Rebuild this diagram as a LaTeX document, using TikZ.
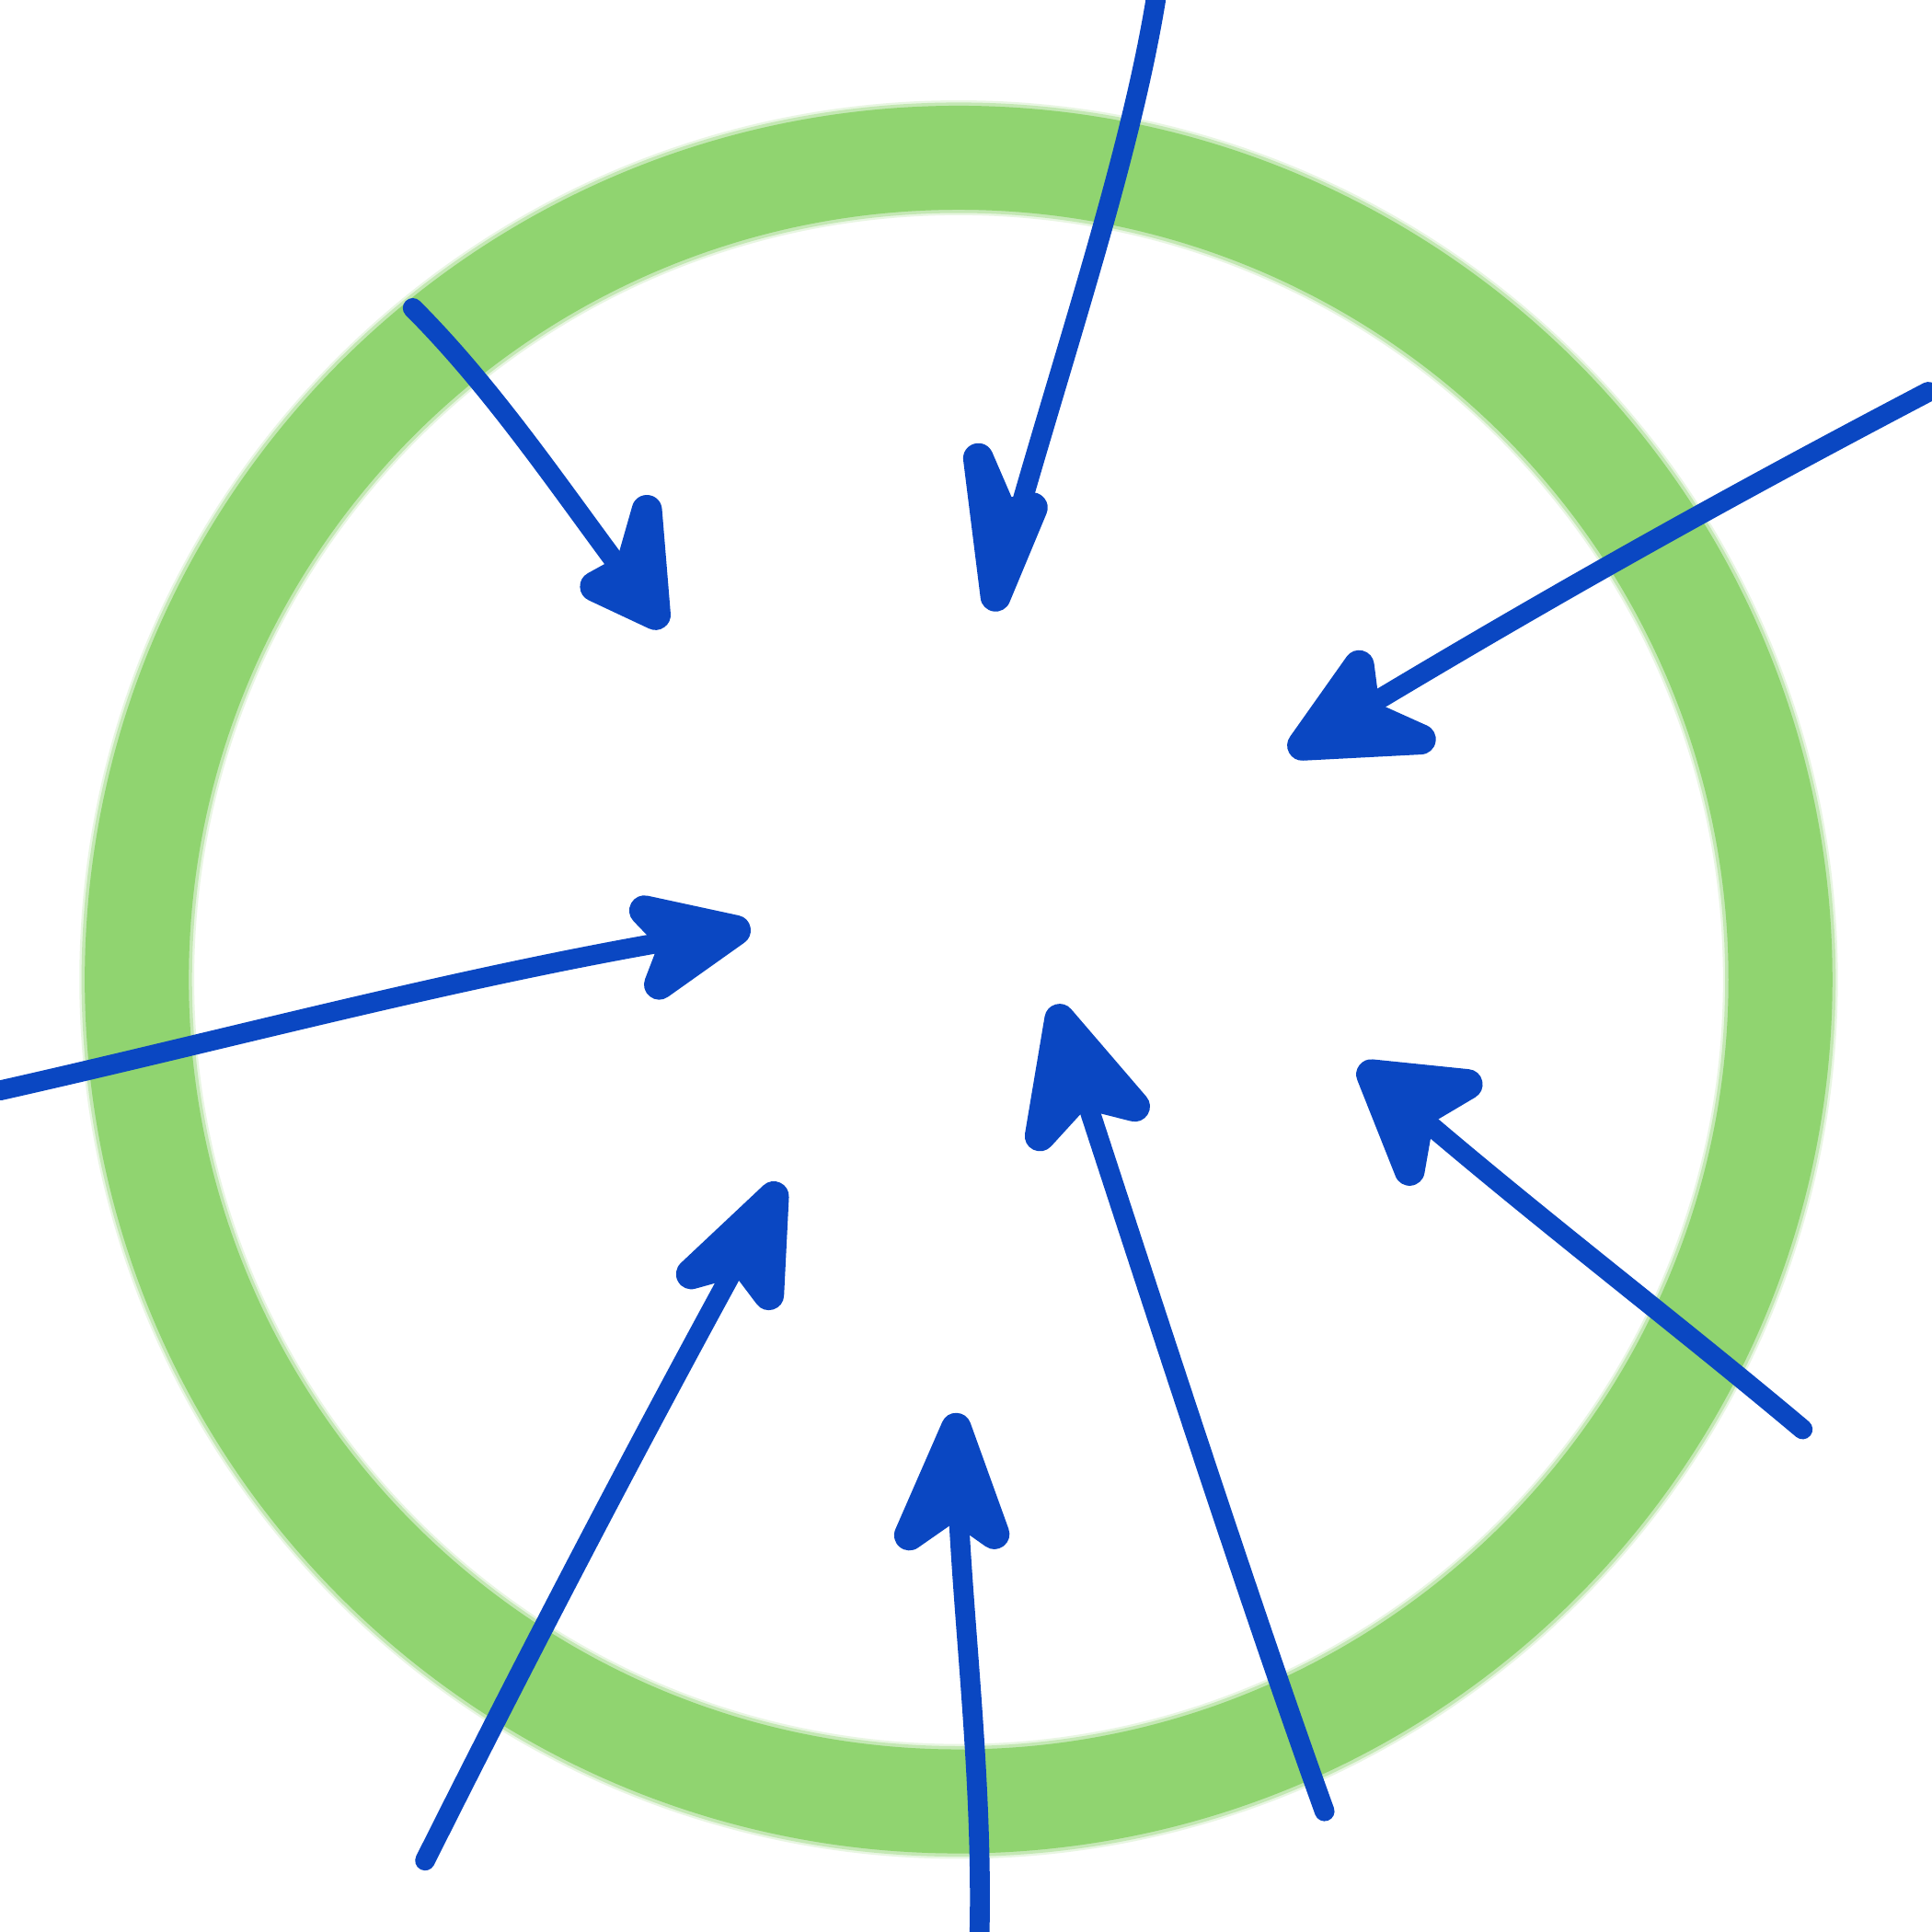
\documentclass[tikz,border=0pt]{standalone}
\usetikzlibrary{calc}
\definecolor{bl}{HTML}{0A47C2}
\definecolor{ringc}{HTML}{90D470}
\begin{document}
\begin{tikzpicture}[x=0.01cm,y=-0.01cm,
  arr/.style={draw=bl, line width=4.6pt, line cap=round, line join=round},
  head/.style={draw=bl, fill=bl, line width=7pt, line cap=round, line join=round},
  ring/.style={draw=ringc}]
\useasboundingbox[fill=white] (0,0) rectangle (1568,1568);
% soft ring
\draw[ring, line width=26.5pt, opacity=0.2] (778,795) circle[radius=667];
\draw[ring, line width=25.5pt, opacity=0.4] (778,795) circle[radius=667];
\draw[ring, line width=24pt] (778,795) circle[radius=667];
% coordinates
\coordinate (s1) at (938,0);   \coordinate (t1) at (808,484); \coordinate (l1) at (794,372);  \coordinate (r1) at (838,412);
\coordinate (s2) at (335,250); \coordinate (t2) at (532,499); \coordinate (l2) at (483,476);  \coordinate (r2) at (525,414);
\coordinate (s3) at (1565,318);\coordinate (t3) at (1057,605);\coordinate (l3) at (1103,540); \coordinate (r3) at (1153,600);
\coordinate (s4) at (0,885);   \coordinate (t4) at (597,755); \coordinate (l4) at (523,739);  \coordinate (r4) at (535,799);
\coordinate (s5) at (860,1470);\coordinate (t5) at (860,827); \coordinate (l5) at (844,922);  \coordinate (r5) at (921,898);
\coordinate (s6) at (1463,1160);\coordinate (t6) at (1113,872);\coordinate (l6) at (1144,950);\coordinate (r6) at (1191,880);
\coordinate (s7) at (345,1510);\coordinate (t7) at (628,971); \coordinate (l7) at (561,1034); \coordinate (r7) at (624,1051);
\coordinate (s8) at (795,1568);\coordinate (t8) at (776,1159);\coordinate (l8) at (738,1246); \coordinate (r8) at (807,1245);
\coordinate (s5) at (1075,1470);
% shafts
\draw[arr] (s1) .. controls (915,140) and (855,310) .. (t1);
\draw[arr] (s2) .. controls (410,325) and (470,420) .. (t2);
\draw[arr] (s3) .. controls (1380,415) and (1230,500) .. (t3);
\draw[arr] (s4) .. controls (200,840) and (400,785) .. (t4);
\draw[arr] (s5) .. controls (1010,1290) and (920,1010) .. (t5);
\draw[arr] (s6) .. controls (1350,1065) and (1230,975) .. (t6);
\draw[arr] (s7) .. controls (440,1320) and (540,1130) .. (t7);
\draw[arr] (s8) .. controls (798,1420) and (776,1280) .. (t8);
% heads
\foreach \i in {1,...,8}{
  \draw[head] (t\i) -- (l\i) -- ($(t\i)!0.72!($(l\i)!0.5!(r\i)$)$) -- (r\i) -- cycle;
}
\end{tikzpicture}
\end{document}
